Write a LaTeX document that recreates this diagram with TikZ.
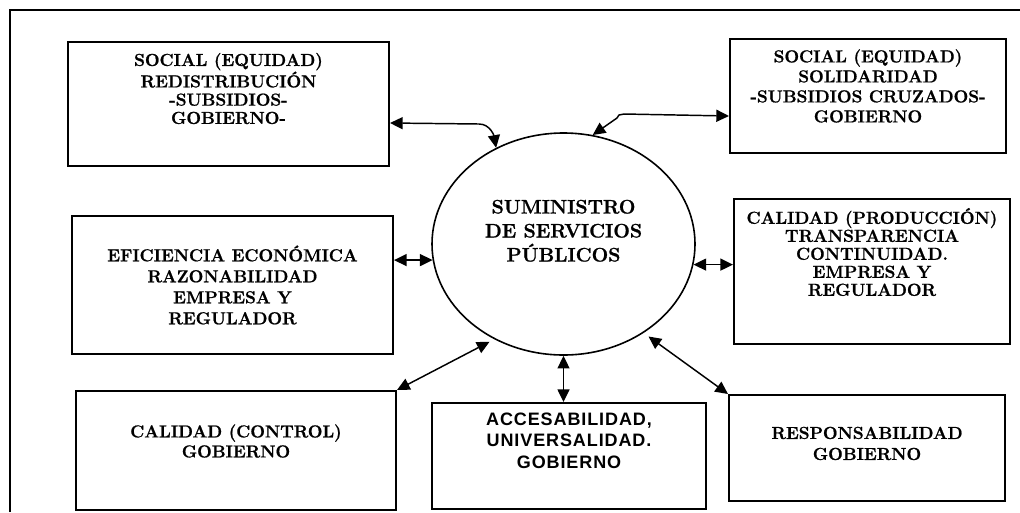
\documentclass[tikz,border=0pt]{standalone}
\usepackage{fontspec}
\newfontfamily\arialfam{Liberation Sans}[LetterSpace=5]
\newfontfamily\negrita{lmroman12-bold.otf}[FakeBold=1]
\usetikzlibrary{arrows.meta,shapes.geometric}

\begin{document}
\begin{tikzpicture}[x=0.75pt, y=0.75pt,
    caja/.style={draw, line width=1.5pt, inner sep=0pt, align=center,
      font=\negrita\fontsize{13pt}{#1pt}\selectfont},
    caja/.default=14,
    flecha/.style={{Triangle[length=9.5pt,width=9pt]}-{Triangle[length=9.5pt,width=9pt]}, line width=1.1pt}]
    \useasboundingbox (0,0) rectangle (1020,-512);
    % marco
    \draw[line width=0.8pt] (10,-512) -- (10,-10) -- (1020,-10);

    % centro
    \node[draw, ellipse, line width=1.2pt, inner sep=0pt, align=center,
      minimum width=197.25pt, minimum height=166.5pt, text depth=20pt,
      font=\negrita\fontsize{14.7pt}{18pt}\selectfont] (serv) at (563.5,-244)
      {SUMINISTRO\\ DE SERVICIOS\\ PÚBLICOS};

    % cajas
    \node[caja=13.7, text depth=23.4pt, minimum width=240.75pt, minimum height=93pt] (redis) at (228.5,-104)
      {SOCIAL (EQUIDAD)\\ REDISTRIBUCIÓN\\ -SUBSIDIOS-\\ GOBIERNO-};
    \node[caja=15, text depth=15.2pt, minimum width=207pt, minimum height=85.5pt] (solid) at (868,-96)
      {SOCIAL (EQUIDAD)\\ SOLIDARIDAD\\ -SUBSIDIOS CRUZADOS-\\ GOBIERNO};
    \node[caja=15.75, minimum width=240.75pt, minimum height=103.5pt] (efic) at (232.5,-285)
      {EFICIENCIA ECONÓMICA\\ RAZONABILIDAD\\ EMPRESA Y\\ REGULADOR};
    \node[caja=13.5, text depth=29.4pt, minimum width=207pt, minimum height=108.75pt] (prod) at (872,-271.5)
      {CALIDAD (PRODUCCIÓN)\\ TRANSPARENCIA\\ CONTINUIDAD.\\ EMPRESA Y\\ REGULADOR};
    \node[caja=15, text depth=14.4pt, minimum width=240pt, minimum height=89.25pt] (ctrl) at (236,-450.5)
      {CALIDAD (CONTROL)\\ GOBIERNO};
    \node[caja=16, text depth=23.2pt, minimum width=205.5pt, minimum height=79.5pt,
      font=\arialfam\bfseries\fontsize{13.5pt}{16pt}\selectfont] (acces) at (569,-456)
      {ACCESABILIDAD,\\ UNIVERSALIDAD.\\ GOBIERNO};
    \node[caja=15.75, text depth=7pt, minimum width=207pt, minimum height=79.5pt] (resp) at (867,-448)
      {RESPONSABILIDAD\\ GOBIERNO};

    % flechas
    \draw[flecha] ([yshift=-14.25pt]redis.east) -- ++(89,-1) to[out=0,in=100] (serv.125);
    \draw[flecha] ([yshift=-15pt]solid.west) -- ++(-105,2) -- ++(-5,-1) -- ++(-2,-3) -- (serv.75);
    \draw[flecha] (efic.east |- serv.187) -- (serv.187);
    \draw[flecha] (serv.351) -- (serv.351 -| prod.west);
    \draw[flecha, shorten <=4pt] (serv.234) -- (ctrl.north east);
    \draw[flecha] (serv.south) -- (serv.south |- acces.north);
    \draw[flecha, shorten <=4.5pt] (serv.312) -- (resp.north west);
\end{tikzpicture}
\end{document}
